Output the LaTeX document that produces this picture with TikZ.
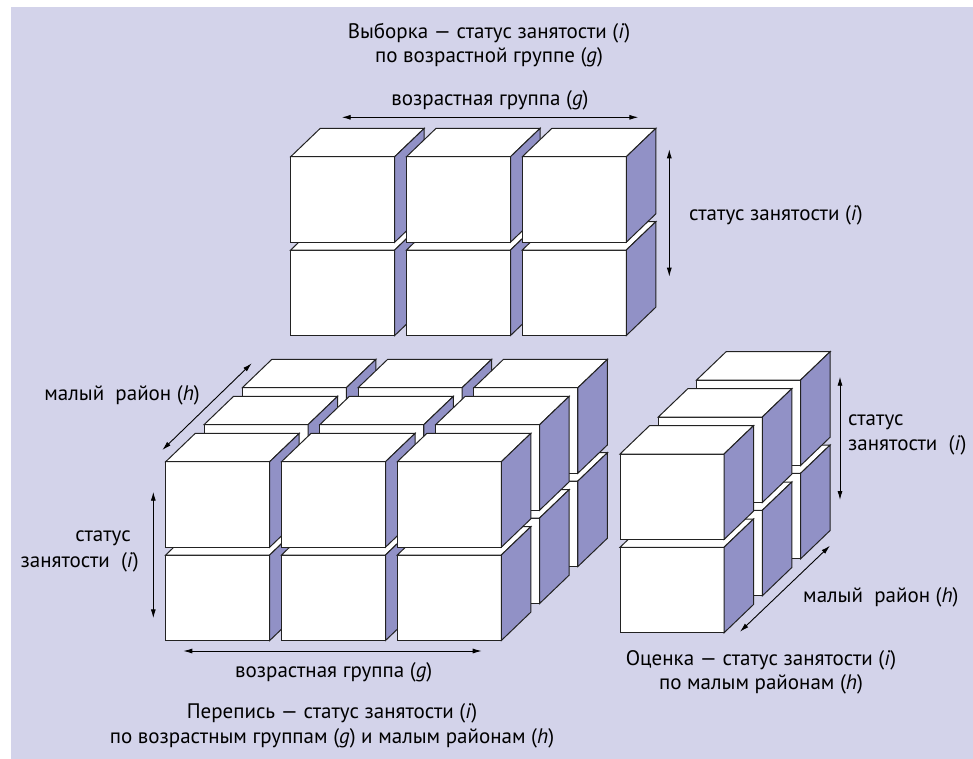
\documentclass[tikz,border=0pt]{standalone}
\usepackage{fontspec}
\setmainfont{PT Sans}
\usetikzlibrary{arrows.meta}

\definecolor{panelbg}{RGB}{211,211,234}
\definecolor{sideblue}{RGB}{145,145,198}
\definecolor{edgegray}{RGB}{34,34,34}

% one cube, front top-left corner at (#1,#2)
\newcommand{\drawcube}[2]{%
  \filldraw[cubeface] (#1,#2) rectangle ++(104,85.5);
  \filldraw[cubeface] (#1,#2) -- ++(29.5,-28.3) -- ++(104,0) -- ++(-29.5,28.3) -- cycle;
  \filldraw[cubeside] ({#1+104},#2) -- ++(29.5,-28.3) -- ++(0,85.5) -- ++(-29.5,28.3) -- cycle;
}

\begin{document}
\begin{tikzpicture}[x=1pt, y=-1pt,
    cubeface/.style={fill=white, draw=edgegray, line width=1pt, line join=miter},
    cubeside/.style={fill=sideblue, draw=edgegray, line width=1pt, line join=miter},
    dim/.style={<->, >={Latex[length=9pt,width=5pt]}, line width=0.9pt},
    lbl/.style={font=\fontsize{21}{24}\selectfont, inner sep=0pt}
    ]
  \useasboundingbox (0,0) rectangle (973,759);
  \fill[panelbg] (11,7) rectangle (973,759);

  % sample: age group x employment status
  \foreach \r in {1,0} {
    \foreach \c in {0,1,2} {
      \pgfmathsetmacro\cx{290.7+115.8*\c}
      \pgfmathsetmacro\cy{156.7+93.3*\r}
      \drawcube{\cx}{\cy}
    }
  }

  % census: age group x status x small area
  \foreach \k in {2,1,0} {
    \foreach \r in {1,0} {
      \foreach \c in {0,1,2} {
        \pgfmathsetmacro\cx{165.7+115.8*\c+38.3*\k}
        \pgfmathsetmacro\cy{461.7+93.3*\r-37*\k}
        \drawcube{\cx}{\cy}
      }
    }
  }

  % estimate: status x small area
  \foreach \k in {2,1,0} {
    \foreach \r in {1,0} {
      \pgfmathsetmacro\cx{620+38.3*\k}
      \pgfmathsetmacro\cy{454+93.3*\r-37*\k}
      \drawcube{\cx}{\cy}
    }
  }

  % captions
  \node[lbl] (sampletitle1) at (489,33) {Выборка — статус занятости (\textit{i})};
  \node[lbl] (sampletitle2) at (489,57) {по возрастной группе (\textit{g})};
  \node[lbl] (censustitle1) at (332,713) {Перепись — статус занятости (\textit{i})};
  \node[lbl] (censustitle2) at (332,738) {по возрастным группам (\textit{g}) и малым районам (\textit{h})};
  \node[lbl] (estimtitle1) at (761,660) {Оценка — статус занятости (\textit{i})};
  \node[lbl] (estimtitle2) at (761,684) {по малым районам (\textit{h})};

  % axis labels
  \node[lbl] (samplegroup) at (490,100) {возрастная группа (\textit{g})};
  \node[lbl, anchor=west] (samplestatus) at (689,215) {статус занятости (\textit{i})};
  \node[lbl, anchor=east] (censusarea) at (200,395) {малый\ \ район (\textit{h})};
  \node[lbl, anchor=east] (censusstatus1) at (131,538) {статус};
  \node[lbl, anchor=east] (censusstatus2) at (139,562) {занятости\ \ (\textit{i})};
  \node[lbl] (censusgroup) at (333.7,672) {возрастная группа (\textit{g})};
  \node[lbl, anchor=west] (estimstatus1) at (848,422) {статус};
  \node[lbl, anchor=west] (estimstatus2) at (848,445) {занятости\ \ (\textit{i})};
  \node[lbl, anchor=west] (estimarea) at (803,597) {малый\ \ район (\textit{h})};

  % arrow ends
  \coordinate (sg-l) at (341.7,117.3);
  \coordinate (sg-r) at (638.3,117.3);
  \coordinate (ss-t) at (669.3,149.3);
  \coordinate (ss-b) at (669.3,276.7);
  \coordinate (ca-f) at (162.3,450);
  \coordinate (ca-b) at (251.7,363.3);
  \coordinate (cs-t) at (153.3,491.7);
  \coordinate (cs-b) at (153.3,618.3);
  \coordinate (cg-l) at (183.3,651);
  \coordinate (cg-r) at (481.7,651);
  \coordinate (es-t) at (840,376.7);
  \coordinate (es-b) at (840,500);
  \coordinate (ea-f) at (740,631.7);
  \coordinate (ea-b) at (830,545.7);

  \draw[dim] (sg-l) -- (sg-r);
  \draw[dim] (ss-t) -- (ss-b);
  \draw[dim] (ca-f) -- (ca-b);
  \draw[dim] (cs-t) -- (cs-b);
  \draw[dim] (cg-l) -- (cg-r);
  \draw[dim] (es-t) -- (es-b);
  \draw[dim] (ea-f) -- (ea-b);
\end{tikzpicture}
\end{document}
